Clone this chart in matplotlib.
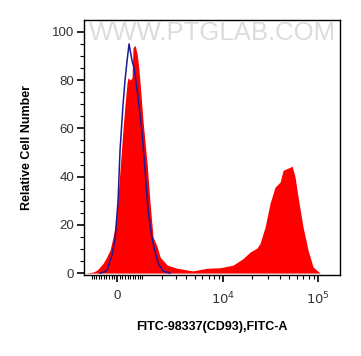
import numpy as np
import matplotlib
matplotlib.use("Agg")
import matplotlib.pyplot as plt
from matplotlib.ticker import FixedLocator, FixedFormatter

# ----- DATA -----

# stained sample (red, filled)
red_x = [-1318, -950, -776, -533, -400, -263, -149, -60, 0, 112, 225, 300, 377,
         416, 500, 572, 612, 693, 776, 840, 904, 1036, 1130, 1223, 1368, 1520,
         1740, 1917, 2372, 3120, 4730, 6730, 9290, 12770, 16300, 19300, 22900,
         24600, 27800, 31400, 35400, 40000, 43100, 48600, 53600, 57600, 61900,
         69900, 78900, 89100, 105600, 125200]
red_y = [0, 0.4, 1.2, 4, 6.5, 9.5, 15, 20, 26, 43, 60, 70, 79,
         81, 80, 81, 93.5, 94.4, 91, 86, 79, 63, 54, 45.5, 29, 15,
         11, 6.6, 3.3, 2, 0.9, 2, 2.2, 3.3, 6, 8.7, 10.4,
         12.3, 19, 29, 35.6, 37.7, 42.6, 43.5, 44.3, 39.8, 31.5,
         19, 9.5, 2.5, 0, 0]

# isotype control (blue line)
blue_x = [-653, -500, -377, -187, -75, 37, 112, 225, 300, 377, 454, 572, 653,
          818, 992, 1127, 1269, 1400, 1520, 1799, 2098, 2564]
blue_y = [0, 0.4, 1.2, 7.6, 14, 30, 51, 70, 80, 88, 95, 88, 85,
          73, 58, 42.6, 26, 18, 12.4, 4, 0.8, 0]

x_major = [0, 1e4, 1e5]
x_major_labels = ["0", "$10^4$", "$10^5$"]
y_major = [0, 20, 40, 60, 80, 100]

# ----- SCALE (logicle-like, asinh) -----

C = 1540.0


def fwd(v):
    return np.arcsinh(np.asarray(v, dtype=float) / C)


def inv(u):
    return C * np.sinh(np.asarray(u, dtype=float))


# ----- PLOT -----

plt.rcParams["font.family"] = ["Liberation Sans", "DejaVu Sans"]

fig = plt.figure(figsize=(3.61, 3.56), dpi=100)
ax = fig.add_axes([84 / 361, 1 - 275 / 356, 256 / 361, 255 / 356])
ax.set_xscale("function", functions=(fwd, inv))

ax.fill_between(red_x, red_y, 0, color="#ff0000", linewidth=0, zorder=2)
ax.plot(blue_x, blue_y, color="#1a1a99", linewidth=1.1, zorder=3)

ax.set_xlim(-1370, 171000)
ax.set_ylim(-0.8, 104.9)

minor_x = [v for v in range(-1000, 1001, 100) if v != 0]
minor_x += [k * 1000 for k in range(2, 10)] + [k * 10000 for k in range(2, 10)]
ax.xaxis.set_major_locator(FixedLocator(x_major))
ax.xaxis.set_major_formatter(FixedFormatter(x_major_labels))
ax.xaxis.set_minor_locator(FixedLocator(minor_x))
ax.yaxis.set_major_locator(FixedLocator(y_major))
ax.yaxis.set_minor_locator(FixedLocator(list(range(5, 100, 5))))

ax.tick_params(which="major", direction="out", length=5, width=1.2,
               labelsize=9.5, colors="black", labelcolor="#333333", pad=2)
ax.tick_params(which="minor", direction="out", length=3, width=0.8)
ax.tick_params(axis="x", which="major", pad=6)
for s in ax.spines.values():
    s.set_linewidth(1.0)

ax.set_ylabel("Relative Cell Number", fontsize=9, fontweight="bold", labelpad=14)
ax.set_xlabel("FITC-98337(CD93),FITC-A", fontsize=9, fontweight="bold", labelpad=10)

# watermark
ax.text(0.5, 0.95, "WWW.PTGLAB.COM", transform=ax.transAxes, ha="center",
        va="center", fontsize=18.5, color="#dcdcdc", zorder=1)

fig.savefig("out.png", dpi=100)
